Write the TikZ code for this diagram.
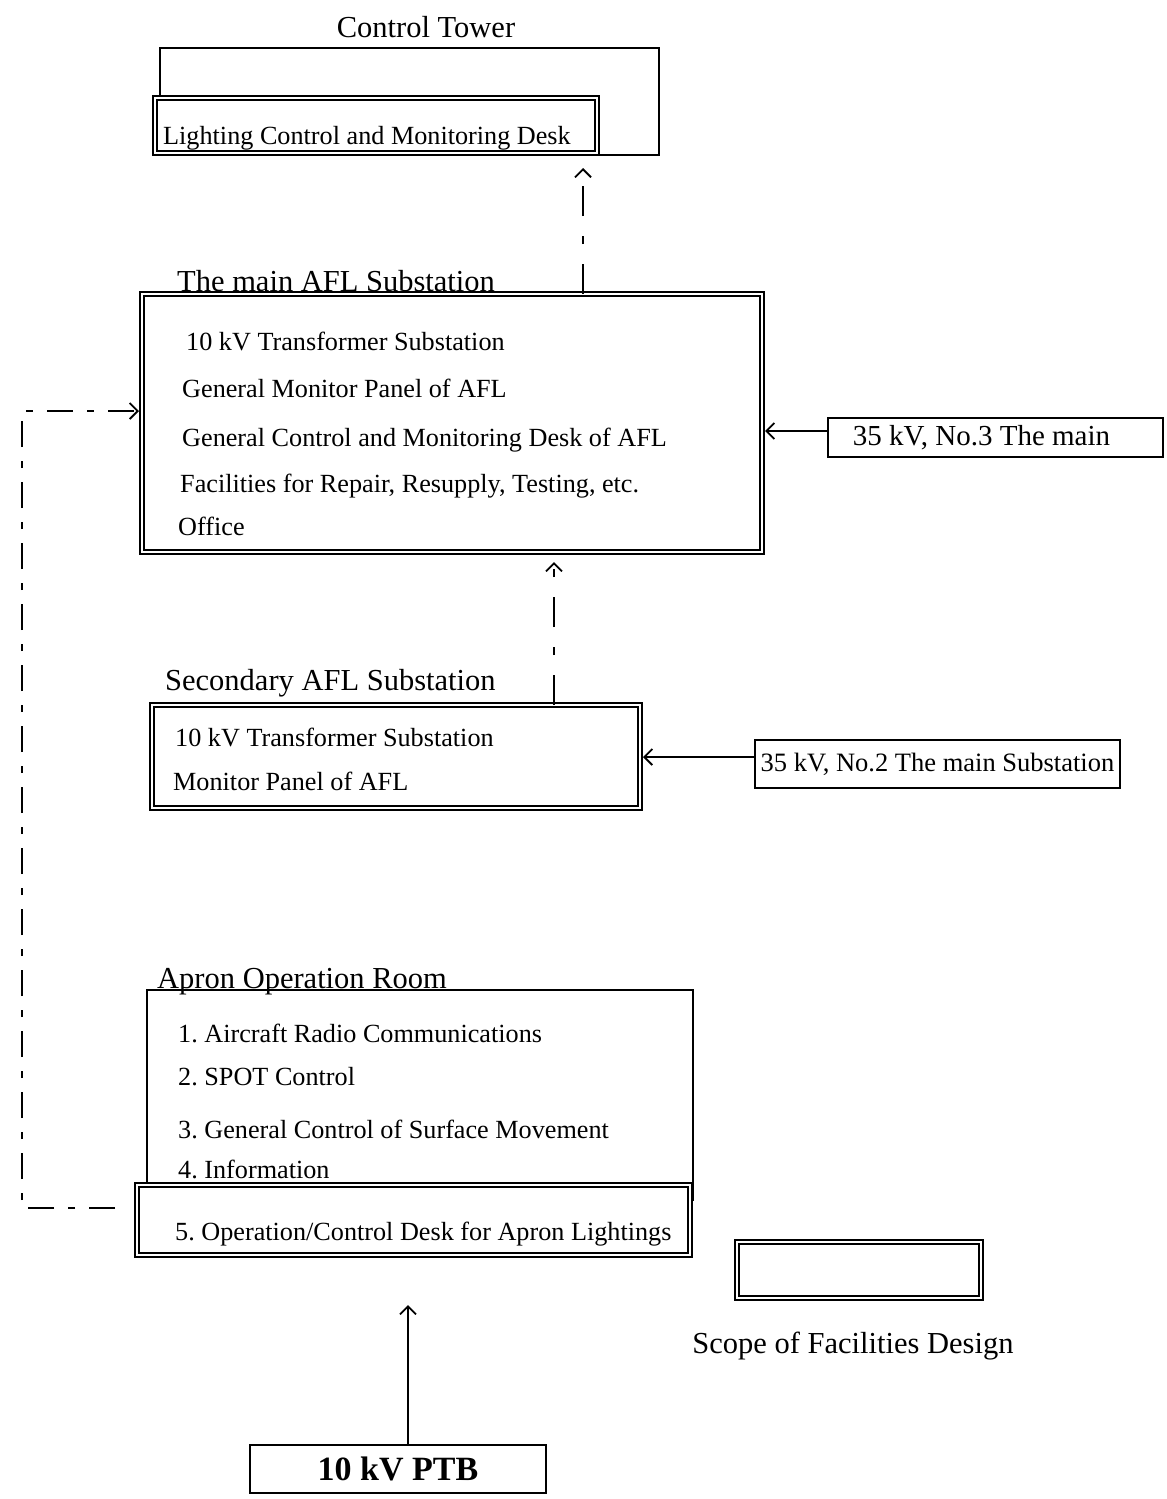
\documentclass[tikz,border=0pt]{standalone}
\usepackage{fontspec}
\setmainfont{Liberation Serif}
\usetikzlibrary{arrows.meta}
\begin{document}
\frenchspacing
\begin{tikzpicture}[x=1pt,y=-1pt,
  sbox/.style={draw, line width=1.5pt, inner sep=0pt, outer sep=0pt, anchor=north west, fill=white},
  dbox/.style={draw, line width=1.3pt, double, double distance=2.5pt, fill=white, inner sep=0pt, outer sep=0pt, anchor=north west},
  item/.style={anchor=base west, inner sep=0pt, font=\fontsize{26.2}{31}\selectfont},
  title/.style={anchor=base west, inner sep=0pt, font=\fontsize{30.5}{35}\selectfont},
  dashdot/.style={line width=2pt, dash pattern=on 30pt off 20pt on 8pt off 20pt},
  dashdotb/.style={line width=2pt, dash pattern=on 26pt off 14pt on 7pt off 14pt},
  arr/.style={-{Straight Barb[length=8pt,width=16pt,line width=1.8pt]}},
  solidarr/.style={line width=1.6pt}
]
\useasboundingbox (0,0) rectangle (1167,1499);

% Control tower
\node[sbox, minimum width=499pt, minimum height=107pt] (tower) at (160,48) {};
\node[dbox, minimum width=442pt, minimum height=55pt] (ldesk) at (155,98) {};
\node[title, anchor=base] (ttower) at (426,37) {Control Tower};
\node[item] (tl1) at (163,144) {Lighting Control and Monitoring Desk};

% Main AFL substation
\node[dbox, minimum width=620pt, minimum height=258pt] (main) at (142,294) {};
\node[title] (tmain) at (177,291) {The main AFL Substation};
\node[item] (m1) at (186,350) {10 kV Transformer Substation};
\node[item] (m2) at (182,397) {General Monitor Panel of AFL};
\node[item] (m3) at (182,446) {General Control and Monitoring Desk of AFL};
\node[item] (m4) at (180,492) {Facilities for Repair, Resupply, Testing, etc.};
\node[item] (m5) at (178,535) {Office};

\node[sbox, minimum width=335pt, minimum height=39pt, font=\fontsize{29}{34}\selectfont] (k3) at (828,418) {35 kV, No.3 The main\hspace*{28pt}};

% Secondary AFL substation
\node[dbox, minimum width=488pt, minimum height=103pt] (sec) at (152,705) {};
\node[title] (tsec) at (165,690) {Secondary AFL Substation};
\node[item] (s1) at (175,746) {10 kV Transformer Substation};
\node[item] (s2) at (173,790) {Monitor Panel of AFL};

\node[sbox, minimum width=365pt, minimum height=48pt, font=\fontsize{26.5}{31}\selectfont] (k2) at (755,740) {35 kV, No.2 The main Substation};

% Apron operation room
\node[sbox, minimum width=546pt, minimum height=210pt] (apron) at (147,990) {};
\node[title] (tapron) at (157,988) {Apron Operation Room};
\node[item] (a1) at (178,1042) {1. Aircraft Radio Communications};
\node[item] (a2) at (178,1085) {2. SPOT Control};
\node[item] (a3) at (178,1138) {3. General Control of Surface Movement};
\node[item] (a4) at (178,1178) {4. Information};
\node[dbox, minimum width=553pt, minimum height=70pt] (adesk) at (137,1185) {};
\node[item] (a5) at (175,1240) {5. Operation/Control Desk for Apron Lightings};

% Legend
\node[dbox, minimum width=244pt, minimum height=56pt] (legend) at (737,1242) {};
\node[title, anchor=base] (tlegend) at (853,1353) {Scope of Facilities Design};

% PTB
\node[sbox, minimum width=296pt, minimum height=48pt, font=\bfseries\fontsize{34}{38}\selectfont] (ptb) at (250,1445) {10 kV PTB};

% connectors
\coordinate (ca) at (583,0);
\coordinate (cb) at (554,0);
\coordinate (cc) at (408,0);
\coordinate (ck3) at (0,431);
\coordinate (ck2) at (0,757);
\coordinate (cl1) at (22,1208);
\coordinate (cl2) at (22,411);

\draw[dashdot, arr, shorten >=15pt] (main.north -| ca) -- (ldesk.south -| ca);
\draw[dashdot, arr, shorten >=10pt] (sec.north -| cb) -- (main.south -| cb);
\draw[solidarr, arr, shorten >=50pt] (ptb.north -| cc) -- (adesk.south -| cc);
\draw[solidarr, arr, shorten >=3pt] (k3.west |- ck3) -- (main.east |- ck3);
\draw[solidarr, arr, shorten >=3pt] (k2.west |- ck2) -- (sec.east |- ck2);
\draw[dashdotb, arr, shorten <=22pt, shorten >=3pt] (adesk.west |- cl1) -- (cl1) -- (cl2) -- (main.west |- cl2);
\end{tikzpicture}
\end{document}
